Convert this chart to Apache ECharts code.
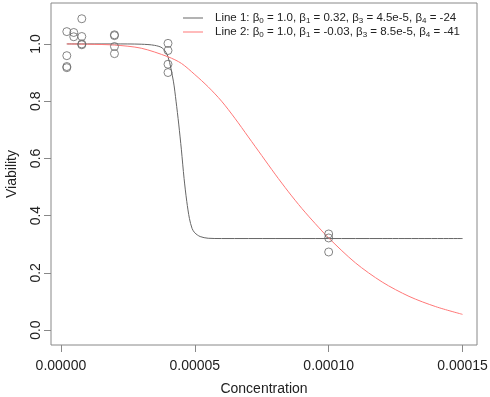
<!DOCTYPE html>
<html>
<head>
<meta charset="utf-8">
<script src="https://cdn.jsdelivr.net/npm/echarts@6/dist/echarts.min.js"></script>
<style>
  html, body { margin: 0; padding: 0; background: #fff; }
  #chart { width: 490px; height: 397px; }
</style>
</head>
<body>
<div id="chart"></div>
<script>
// observed points
const pointX = [
  0.0000022, 0.0000022, 0.0000022, 0.0000022,
  0.0000048, 0.0000048,
  0.0000078, 0.0000078, 0.0000078, 0.0000078,
  0.00002, 0.00002, 0.00002, 0.00002,
  0.00004, 0.00004, 0.00004, 0.00004,
  0.0001, 0.0001, 0.0001
];
const pointY = [
  1.043, 0.959, 0.921, 0.917,
  1.040, 1.025,
  1.088, 1.026, 1.000, 0.997,
  1.032, 1.029, 0.991, 0.966,
  1.002, 0.977, 0.929, 0.900,
  0.336, 0.322, 0.273
];

// line 1 (gray)
const line1X = [0.0000022, 0.00001, 0.00002, 0.00003, 0.000035, 0.000038, 0.00004, 0.000042, 0.000043,
  0.000044, 0.000045, 0.000046, 0.000047, 0.000048, 0.000049, 0.00005, 0.000052, 0.000055, 0.00006,
  0.00008, 0.0001, 0.00012, 0.00015];
const line1Y = [1.0, 1.0, 1.0, 0.999, 0.995, 0.985, 0.955, 0.87, 0.80,
  0.72, 0.63, 0.53, 0.45, 0.39, 0.355, 0.34, 0.327, 0.321, 0.32,
  0.32, 0.32, 0.32, 0.32];

// line 2 (red)
const line2X = [0.0000022, 0.00001, 0.00002, 0.00003, 0.00004, 0.000045, 0.00005, 0.000055, 0.00006,
  0.000065, 0.00007, 0.000075, 0.00008, 0.000085, 0.00009, 0.000095, 0.0001, 0.00011, 0.00012,
  0.00013, 0.00014, 0.00015];
const line2Y = [1.0, 0.999, 0.996, 0.985, 0.955, 0.932, 0.893, 0.85, 0.80,
  0.74, 0.675, 0.61, 0.545, 0.483, 0.425, 0.372, 0.322, 0.235, 0.168,
  0.118, 0.082, 0.055];

const xTicks = [0, 0.00005, 0.0001, 0.00015];
const yTicks = [0, 0.2, 0.4, 0.6, 0.8, 1.0];
const seriesNames = ['Line 1', 'Line 2'];
const legendLabels = [
  'Line 1: β{s|0} = 1.0, β{s|1} = 0.32, β{s|3} = 4.5e-5, β{s|4} = -24',
  'Line 2: β{s|0} = 1.0, β{s|1} = -0.03, β{s|3} = 8.5e-5, β{s|4} = -41'
];

const zip = (xs, ys) => xs.map((x, i) => [x, ys[i]]);

const chart = echarts.init(document.getElementById('chart'));
const font = 'Liberation Sans, Arial, sans-serif';
const boxColor = '#888';

const option = {
  animation: false,
  textStyle: { fontFamily: font },
  grid: {
    left: 51, right: 13, top: 3, bottom: 52,
    outerBoundsMode: 'none',
    show: true, borderColor: boxColor, borderWidth: 1, backgroundColor: 'transparent'
  },
  legend: {
    data: seriesNames,
    orient: 'vertical',
    left: 178, top: 6,
    icon: 'rect',
    itemWidth: 20, itemHeight: 1,
    itemGap: 0,
    textStyle: {
      fontSize: 11.5, color: '#222', fontFamily: font, lineHeight: 14,
      padding: [0, 0, 0, 7],
      rich: { s: { fontSize: 8, padding: [5, 0, 0, 0], fontFamily: font, color: '#222' } }
    },
    formatter: name => legendLabels[seriesNames.indexOf(name)]
  },
  xAxis: {
    type: 'value',
    min: -0.0000037, max: 0.0001554,
    name: 'Concentration', nameLocation: 'middle', nameGap: 37,
    nameTextStyle: { fontSize: 14, color: '#222' },
    axisLine: { show: false, onZero: false },
    splitLine: { show: false },
    axisTick: { show: true, length: 7, lineStyle: { color: boxColor }, customValues: xTicks },
    axisLabel: {
      fontSize: 14, color: '#222', margin: 14, customValues: xTicks,
      formatter: v => v.toFixed(5)
    }
  },
  yAxis: {
    type: 'value',
    min: -0.052, max: 1.143,
    name: 'Viability', nameLocation: 'middle', nameGap: 32,
    nameTextStyle: { fontSize: 14, color: '#222' },
    axisLine: { show: false, onZero: false },
    splitLine: { show: false },
    axisTick: { show: true, length: 7, lineStyle: { color: boxColor }, customValues: yTicks },
    axisLabel: {
      fontSize: 14, color: '#222', margin: 8, rotate: 90, customValues: yTicks,
      formatter: v => v.toFixed(1)
    }
  },
  series: [
    {
      name: 'Points', type: 'scatter',
      data: zip(pointX, pointY),
      symbol: 'circle', symbolSize: 8,
      itemStyle: { color: 'rgba(0,0,0,0)', borderColor: '#666', borderWidth: 1 },
      z: 3
    },
    {
      name: 'Line 1', type: 'line',
      data: zip(line1X, line1Y),
      showSymbol: false, symbol: 'none', smooth: 0.3,
      lineStyle: { color: '#666', width: 1 },
      itemStyle: { color: '#666' }
    },
    {
      name: 'Line 2', type: 'line',
      data: zip(line2X, line2Y),
      showSymbol: false, symbol: 'none', smooth: 0.3,
      lineStyle: { color: '#f77', width: 1 },
      itemStyle: { color: '#f77' }
    }
  ]
};

chart.setOption(option);
</script>
</body>
</html>
